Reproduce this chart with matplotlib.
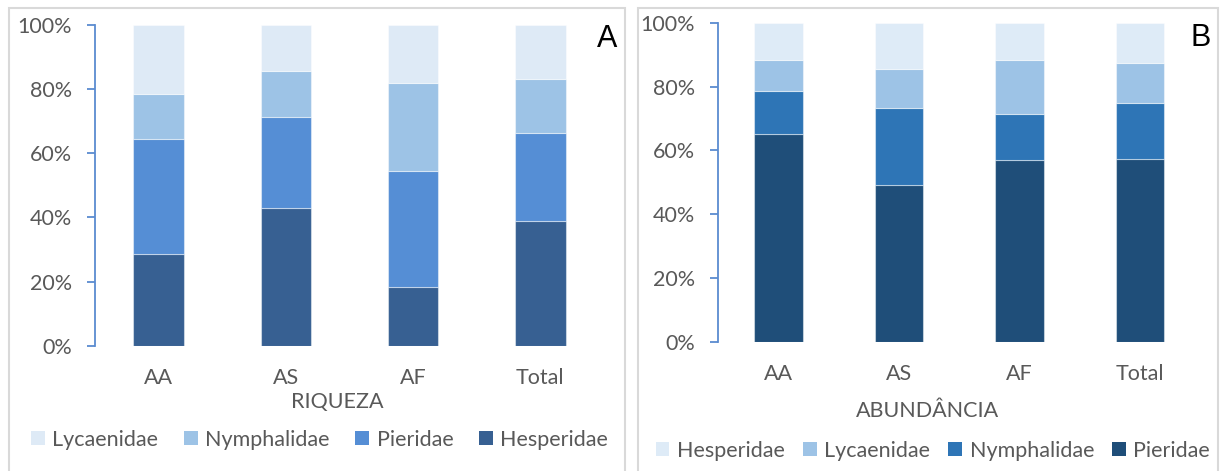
import matplotlib
matplotlib.use("Agg")
import matplotlib.pyplot as plt
from matplotlib.patches import Rectangle, Patch
from matplotlib.ticker import FuncFormatter

# Sites (categories)
sites = ["AA", "AS", "AF", "Total"]

# Species richness share (%), stacked bottom -> top
rich_hesperidae = [28.6, 42.8, 18.2, 38.9]
rich_pieridae = [35.7, 28.6, 36.3, 27.5]
rich_nymphalidae = [14.3, 14.3, 27.3, 16.8]
rich_lycaenidae = [21.4, 14.3, 18.2, 16.8]

# Abundance share (%), stacked bottom -> top
abund_pieridae = [65.3, 49.1, 57.1, 57.3]
abund_nymphalidae = [13.5, 24.3, 14.3, 17.6]
abund_lycaenidae = [9.6, 12.3, 17.0, 12.7]
abund_hesperidae = [11.6, 14.3, 11.6, 12.4]

W, H = 1220, 471
FONT = "Lato"
TXT = "#595959"
SPINE = "#5B8BD0"
FS = 15.5

plt.rcParams["font.family"] = [FONT, "DejaVu Sans"]

fig = plt.figure(figsize=(W / 100, H / 100), dpi=100)


def px_axes(left, top, right, bottom):
    return fig.add_axes([left / W, 1 - bottom / H, (right - left) / W, (bottom - top) / H])


def style_axes(ax):
    ax.set_xlim(-0.5, 3.5)
    ax.set_ylim(0, 100)
    ax.set_yticks(range(0, 101, 20))
    ax.yaxis.set_major_formatter(FuncFormatter(lambda v, _: f"{v:.0f}%"))
    for s in ("top", "right", "bottom"):
        ax.spines[s].set_visible(False)
    ax.spines["left"].set_color(SPINE)
    ax.spines["left"].set_linewidth(1.3)
    ax.tick_params(axis="y", direction="out", length=6, width=1.3, color=SPINE,
                   labelcolor=TXT, labelsize=FS, pad=11)
    ax.tick_params(axis="x", length=0, labelcolor=TXT, labelsize=FS, pad=16)
    ax.set_xticks(range(len(sites)), sites)
    ax.set_facecolor("none")


def stacked(ax, series, colors):
    bottom = [0.0] * len(sites)
    for vals, col in zip(series, colors):
        ax.bar(range(len(sites)), vals, width=0.4, bottom=bottom, color=col,
               edgecolor=(1, 1, 1, 0.45), linewidth=0.8)
        bottom = [b + v for b, v in zip(bottom, vals)]


# Panel frames
fig.patches.append(Rectangle((8.6 / W, -0.05), (624.8 - 8.6) / W, (H - 8.3) / H + 0.05,
                             transform=fig.transFigure, fill=False,
                             edgecolor="#D9D9D9", linewidth=1.5))
fig.patches.append(Rectangle((638 / W, -0.05), (1218 - 638) / W, (H - 8.3) / H + 0.05,
                             transform=fig.transFigure, fill=False,
                             edgecolor="#D9D9D9", linewidth=1.5))

# Panel A: richness
axA = px_axes(95.3, 25, 603.7, 345.7)
colA = ["#376092", "#558ED5", "#9DC3E6", "#DEEAF6"]
stacked(axA, [rich_hesperidae, rich_pieridae, rich_nymphalidae, rich_lycaenidae], colA)
style_axes(axA)

# Panel B: abundance
axB = px_axes(718.3, 23, 1200.3, 341.7)
colB = ["#1F4E79", "#2E75B6", "#9DC3E6", "#DEEBF7"]
stacked(axB, [abund_pieridae, abund_nymphalidae, abund_lycaenidae, abund_hesperidae], colB)
style_axes(axB)

# Axis titles
fig.text(337.4 / W, 1 - 402 / H, "RIQUEZA", ha="center", va="center", color=TXT, fontsize=FS)
fig.text(927 / W, 1 - 411 / H, "ABUNDÂNCIA", ha="center", va="center", color=TXT, fontsize=FS)

# Panel letters
fig.text(606.7 / W, 1 - 39 / H, "A", ha="center", va="center", color="black",
         fontsize=22, family="Liberation Sans")
fig.text(1201 / W, 1 - 38 / H, "B", ha="center", va="center", color="black",
         fontsize=22, family="Liberation Sans")

leg_kw = dict(ncol=4, frameon=False, fontsize=FS, handlelength=0.63, handleheight=0.63,
              handletextpad=0.35, borderpad=0, borderaxespad=0,
              labelcolor=TXT, loc="center")

handlesA = [Patch(facecolor=colA[3], label="Lycaenidae"),
            Patch(facecolor=colA[2], label="Nymphalidae"),
            Patch(facecolor=colA[1], label="Pieridae"),
            Patch(facecolor=colA[0], label="Hesperidae")]
fig.legend(handles=handlesA, bbox_to_anchor=(319.6 / W, 1 - 440 / H),
           bbox_transform=fig.transFigure, columnspacing=1.2, **leg_kw)

handlesB = [Patch(facecolor=colB[3], label="Hesperidae"),
            Patch(facecolor=colB[2], label="Lycaenidae"),
            Patch(facecolor=colB[1], label="Nymphalidae"),
            Patch(facecolor=colB[0], label="Pieridae")]
fig.legend(handles=handlesB, bbox_to_anchor=(933 / W, 1 - 451 / H),
           bbox_transform=fig.transFigure, columnspacing=0.85, **leg_kw)

fig.savefig("out.png", dpi=100, facecolor="white")
